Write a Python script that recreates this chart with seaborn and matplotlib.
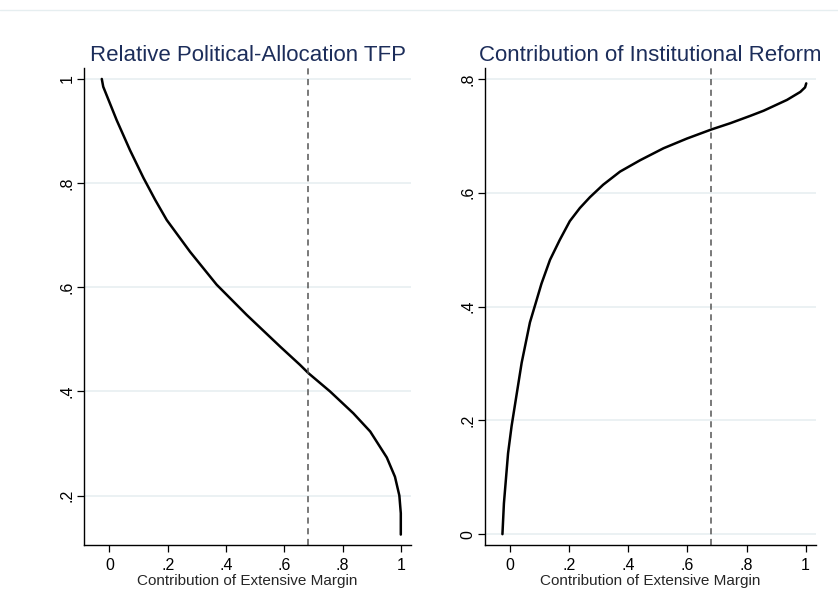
import matplotlib
matplotlib.use("Agg")
import matplotlib.pyplot as plt
from matplotlib.lines import Line2D
from matplotlib.ticker import FuncFormatter
import seaborn as sns
import pandas as pd

# values
tfp_margin = [-0.026, -0.021, 0.025, 0.071, 0.117, 0.157, 0.197, 0.277, 0.368,
              0.471, 0.586, 0.654, 0.683, 0.757, 0.837, 0.895, 0.952, 0.980,
              0.995, 1.0, 1.0]
tfp_value = [1.0, 0.985, 0.921, 0.863, 0.810, 0.768, 0.729, 0.668, 0.605,
             0.547, 0.486, 0.451, 0.435, 0.400, 0.358, 0.323, 0.273, 0.236,
             0.200, 0.166, 0.125]

reform_margin = [-0.026, -0.021, -0.007, 0.005, 0.039, 0.067, 0.086, 0.106,
                 0.135, 0.168, 0.202, 0.236, 0.270, 0.315, 0.372, 0.440,
                 0.519, 0.598, 0.681, 0.745, 0.813, 0.858, 0.937, 0.982,
                 0.998, 1.002]
reform_value = [0.0, 0.054, 0.142, 0.19, 0.301, 0.372, 0.405, 0.440, 0.482,
                0.517, 0.550, 0.573, 0.592, 0.614, 0.637, 0.657, 0.678,
                0.695, 0.711, 0.722, 0.735, 0.744, 0.763, 0.777, 0.785,
                0.792]

cutoff = 0.68
x_ticks = [0, 0.2, 0.4, 0.6, 0.8, 1.0]
tfp_yticks = [0.2, 0.4, 0.6, 0.8, 1.0]
reform_yticks = [0, 0.2, 0.4, 0.6, 0.8]

sns.set_theme(style="white")
plt.rcParams['font.family'] = ['Liberation Sans', 'DejaVu Sans']

TITLE_COLOR = "#1c2d5a"
GRID_COLOR = "#e6eef0"


def stata_fmt(v, pos):
    s = f"{v:.1f}".rstrip("0").rstrip(".")
    if s.startswith("0."):
        s = s[1:]
    return s


def draw_panel(ax, xs, ys, title, yticks, xlim, ylim):
    df = pd.DataFrame({"margin": xs, "value": ys})
    sns.lineplot(data=df, x="margin", y="value", ax=ax, color="black",
                 linewidth=1.8, sort=False, estimator=None,
                 solid_joinstyle="round")
    ax.axvline(cutoff, color="#555555", linewidth=1.1, linestyle=(0, (4, 3)))
    ax.set_xlim(*xlim)
    ax.set_ylim(*ylim)
    ax.set_xticks(x_ticks)
    ax.set_yticks(yticks)
    ax.xaxis.set_major_formatter(FuncFormatter(stata_fmt))
    ax.yaxis.set_major_formatter(FuncFormatter(stata_fmt))
    ax.yaxis.grid(True, color=GRID_COLOR, linewidth=1.1)
    ax.xaxis.grid(False)
    ax.set_axisbelow(True)
    for side in ["top", "right"]:
        ax.spines[side].set_visible(False)
    for side in ["left", "bottom"]:
        ax.spines[side].set_color("black")
        ax.spines[side].set_linewidth(1.0)
    ax.tick_params(axis="both", which="major", direction="out", length=5,
                   width=0.9, color="black", labelsize=11.5, pad=2,
                   labelcolor="black", bottom=True, left=True)
    ax.tick_params(axis="x", pad=4)
    for lab in ax.get_yticklabels():
        lab.set_rotation(90)
        lab.set_va("center")
    ax.set_xlabel("Contribution of Extensive Margin", fontsize=11,
                  labelpad=1)
    ax.set_ylabel("")
    ax.set_title(title, fontsize=16, color=TITLE_COLOR, pad=5)


fig = plt.figure(figsize=(8.38, 6.13), dpi=100)
W, H = 838, 613

ax1 = fig.add_axes([84 / W, (H - 545) / H, (411 - 84) / W, (545 - 68) / H])
ax2 = fig.add_axes([485 / W, (H - 545) / H, (816 - 485) / W, (545 - 68) / H])

draw_panel(ax1, tfp_margin, tfp_value, "Relative Political-Allocation TFP",
           tfp_yticks, (-0.087, 1.035), (0.105, 1.021))
draw_panel(ax2, reform_margin, reform_value, "Contribution of Institutional Reform",
           reform_yticks, (-0.085, 1.035), (-0.019, 0.819))

# faint separator along the top
fig.add_artist(Line2D([0, 1], [1 - 10 / H, 1 - 10 / H], color="#e6eef0",
                      linewidth=1.0, transform=fig.transFigure))

fig.savefig("out.png", dpi=100, facecolor="white")
